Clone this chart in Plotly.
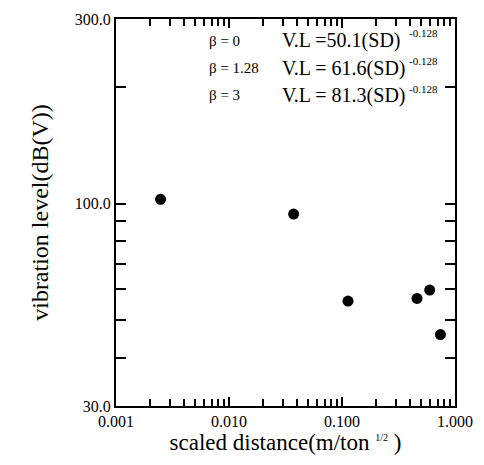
import plotly.graph_objects as go

# Data
scaled_distance = [0.00248, 0.0373, 0.113, 0.461, 0.597, 0.743]
vibration_level = [102.6, 94.0, 56.0, 56.9, 59.8, 45.9]

x_tick_vals = [0.001, 0.01, 0.1, 1.0]
x_tick_text = ["0.001", "0.010", "0.100", "1.000"]
y_tick_vals = [30, 100, 300]
y_tick_text = ["30.0", "100.0", "300.0"]
y_minor_vals = [40, 50, 60, 70, 80, 90, 200]
x_minor_vals = [m * d for d in (0.001, 0.01, 0.1) for m in range(2, 10)]

beta_labels = ["β = 0", "β = 1.28", "β = 3"]
equations = ["V.L =50.1(SD)", "V.L = 61.6(SD)", "V.L = 81.3(SD)"]
exponents = ["-0.128", "-0.128", "-0.128"]

FONT = "Liberation Serif"

fig = go.Figure()
fig.add_trace(go.Scatter(
    x=scaled_distance, y=vibration_level, mode="markers",
    marker=dict(color="black", size=11, line=dict(width=0)),
    showlegend=False, cliponaxis=False,
))

row_y = [0.944, 0.873, 0.803]
sup_y = [0.965, 0.891, 0.820]
annotations = []
for i in range(3):
    annotations.append(dict(x=0.267, y=row_y[i], xref="paper", yref="paper",
                            text=beta_labels[i], showarrow=False, xanchor="left",
                            yanchor="middle", font=dict(family=FONT, size=15, color="black")))
    annotations.append(dict(x=0.483, y=row_y[i], xref="paper", yref="paper",
                            text=equations[i], showarrow=False, xanchor="left",
                            yanchor="middle", font=dict(family=FONT, size=20, color="black")))
    annotations.append(dict(x=0.859, y=sup_y[i], xref="paper", yref="paper",
                            text=exponents[i], showarrow=False, xanchor="left",
                            yanchor="middle", font=dict(family=FONT, size=11, color="black")))

fig.update_layout(
    width=484, height=465,
    margin=dict(l=116, r=20, t=11, b=59),
    paper_bgcolor="white", plot_bgcolor="white",
    font=dict(family=FONT, color="black", size=16),
    annotations=annotations,
    xaxis=dict(
        type="log", range=[-3, 0],
        tickvals=x_tick_vals, ticktext=x_tick_text,
        ticks="inside", ticklen=9, tickwidth=1.5, tickcolor="black",
        minor=dict(tickvals=x_minor_vals, ticks="inside", ticklen=7,
                   tickwidth=1.5, tickcolor="black", showgrid=False),
        showline=True, linecolor="black", linewidth=2, mirror="ticks",
        showgrid=False, zeroline=False,
        tickfont=dict(family=FONT, size=16),
        title=dict(text="scaled distance(m/ton <sup><span style='font-size:10px'>1/2</span></sup> )",
                   font=dict(family=FONT, size=23), standoff=0),
    ),
    yaxis=dict(
        type="log", range=[1.4771, 2.4771],
        tickvals=y_tick_vals, ticktext=y_tick_text,
        ticks="inside", ticklen=10, tickwidth=1.5, tickcolor="black",
        minor=dict(tickvals=y_minor_vals, ticks="inside", ticklen=10,
                   tickwidth=1.5, tickcolor="black", showgrid=False),
        showline=True, linecolor="black", linewidth=2, mirror="ticks",
        showgrid=False, zeroline=False,
        tickfont=dict(family=FONT, size=16),
        title=dict(text="vibration level(dB(V))",
                   font=dict(family=FONT, size=24), standoff=19),
    ),
)

fig.write_html("out.html")
